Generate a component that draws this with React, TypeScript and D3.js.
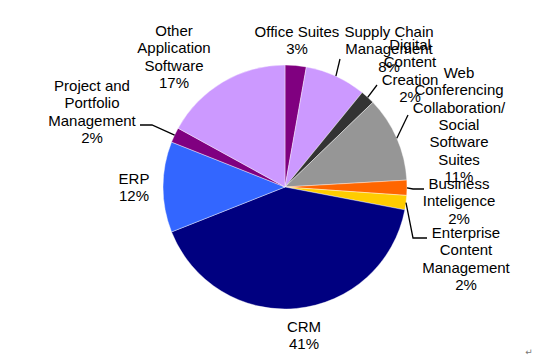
import React, { useEffect, useRef } from 'react';
import * as d3 from 'd3';

// slice order runs clockwise from 12 o'clock
const categories = [
  'Office Suites',
  'Supply Chain\nManagement',
  'Digital\nContent\nCreation',
  'Web\nConferencing\nCollaboration/\nSocial\nSoftware\nSuites',
  'Business\nInteligence',
  'Enterprise\nContent\nManagement',
  'CRM',
  'ERP',
  'Project and\nPortfolio\nManagement',
  'Other\nApplication\nSoftware',
];
const shares = [2.8, 8.1, 1.9, 11.3, 2.0, 1.9, 41.0, 12.0, 2.0, 17.0];
const colors = [
  '#800080', '#cc99ff', '#333333', '#969696', '#ff6600',
  '#ffcc00', '#000080', '#3366ff', '#800080', '#cc99ff',
];

// where each label block sits (centre x, first baseline) and its leader bends
const labelPos = [
  { x: 297, y: 37, leader: null },
  { x: 389, y: 37, leader: [[340, 59]] },
  { x: 410, y: 50, leader: [[377, 85]] },
  { x: 459, y: 78, leader: [[408, 115]] },
  { x: 459, y: 189, leader: [[413, 189], [424, 189]] },
  { x: 466, y: 238, leader: [[413, 238], [427, 238]] },
  { x: 304, y: 332, leader: null },
  { x: 134, y: 184, leader: null },
  { x: 92, y: 91, leader: [[152, 125], [140, 125]] },
  { x: 174, y: 36, leader: null },
];

function App() {
  const ref = useRef(null);

  useEffect(() => {
    const width = 543;
    const height = 358;
    const cx = 285;
    const cy = 187;
    const radius = 122;
    const lineH = 17.3;

    const svg = d3.select(ref.current);
    svg.selectAll('*').remove();
    svg.attr('width', width).attr('height', height);

    svg.append('rect').attr('width', width).attr('height', height).attr('fill', '#fff');

    const data = shares.map((v, i) => ({ key: categories[i], value: v, i }));
    const pie = d3.pie().value(d => d.value).sort(null);
    const arcs = pie(data);
    const arc = d3.arc().innerRadius(0).outerRadius(radius);

    const g = svg.append('g').attr('transform', `translate(${cx},${cy})`);
    g.selectAll('path')
      .data(arcs)
      .enter()
      .append('path')
      .attr('d', arc)
      .attr('fill', d => colors[d.index])
      .attr('stroke', '#fff')
      .attr('stroke-width', 0.4);

    // leader lines from the slice edge
    const line = d3.line();
    arcs.forEach(d => {
      const lp = labelPos[d.index];
      if (!lp.leader) return;
      const mid = (d.startAngle + d.endAngle) / 2;
      const start = [cx + radius * Math.sin(mid), cy - radius * Math.cos(mid)];
      svg.append('path')
        .attr('d', line([start, ...lp.leader]))
        .attr('fill', 'none')
        .attr('stroke', '#000')
        .attr('stroke-width', 1.3);
    });

    // labels
    arcs.forEach(d => {
      const lp = labelPos[d.index];
      const lines = d.data.key.split('\n').concat([Math.round(d.data.value) + '%']);
      const t = svg.append('text')
        .attr('x', lp.x)
        .attr('y', lp.y)
        .attr('text-anchor', 'middle')
        .attr('font-family', '"Liberation Sans", Arial, sans-serif')
        .attr('font-size', 15)
        .attr('fill', '#000');
      lines.forEach((s, k) => {
        t.append('tspan')
          .attr('x', lp.x)
          .attr('y', lp.y + k * lineH)
          .text(s);
      });
    });

    svg.append('text')
      .attr('x', 529)
      .attr('y', 355)
      .attr('text-anchor', 'middle')
      .attr('font-family', '"DejaVu Sans", sans-serif')
      .attr('font-size', 9)
      .attr('fill', '#777')
      .text('↵');
  }, []);

  return (
    <svg ref={ref} style={{ position: 'absolute', left: 0, top: 0, display: 'block' }}></svg>
  );
}

export default App;
